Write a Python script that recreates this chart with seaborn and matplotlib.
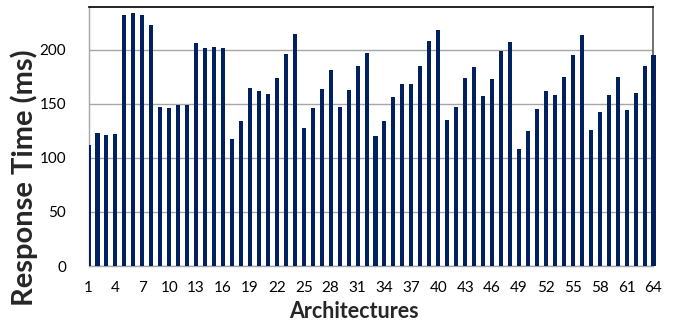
import matplotlib
matplotlib.use("Agg")
import matplotlib.pyplot as plt
import seaborn as sns
import pandas as pd

# Response time measured for each of the 64 architectures
architectures = list(range(1, 65))
response_ms = [
    112, 123, 121, 122, 232, 234, 232, 223,
    147, 146, 149, 149, 206, 202, 203, 202,
    118, 134, 165, 162, 159, 174, 196, 215,
    128, 146, 164, 181, 147, 163, 185, 197,
    120, 134, 156, 168, 168, 185, 208, 218,
    135, 147, 174, 184, 157, 173, 199, 207,
    108, 125, 145, 162, 158, 175, 195, 214,
    126, 143, 158, 175, 144, 160, 185, 195,
]
y_ticks = [0, 50, 100, 150, 200]

sns.set_theme(style="white")
plt.rcParams["font.family"] = ["Lato", "DejaVu Sans"]

df = pd.DataFrame({"arch": architectures, "ms": response_ms})

fig = plt.figure(figsize=(6.83, 3.22), dpi=100)
ax = fig.add_axes([0.1296, 0.1739, 0.8272, 0.8053])

sns.barplot(data=df, x="arch", y="ms", color="#002060", saturation=1,
            width=0.45, ax=ax, zorder=3)
for i, p in enumerate(ax.patches):
    p.set_edgecolor("none")
    if i > 0:
        p.set_clip_on(False)

ax.set_ylim(0, 240)
ax.set_xlim(0, 63)
ax.set_yticks(y_ticks)
ax.set_yticklabels([str(v) for v in y_ticks], fontsize=11)
tick_pos = list(range(0, 64, 3))
ax.set_xticks(tick_pos)
ax.set_xticklabels([str(architectures[i]) for i in tick_pos], fontsize=11)
ax.tick_params(axis="x", length=0, pad=11, colors="#000000")
ax.tick_params(axis="y", length=0, pad=16, colors="#000000")

ax.yaxis.grid(True, color="#a6a6a6", linewidth=1.0, zorder=0)
ax.set_axisbelow(True)

ax.spines["top"].set_color("#000000")
ax.spines["top"].set_linewidth(1.2)
ax.spines["right"].set_color("#595959")
ax.spines["right"].set_linewidth(1.2)
ax.spines["left"].set_color("#a6a6a6")
ax.spines["bottom"].set_color("#a6a6a6")
for s in ("left", "bottom"):
    ax.spines[s].set_linewidth(1.0)

ax.set_xlabel("Architectures", fontsize=15.5, fontweight="bold", va="center")
ax.xaxis.set_label_coords(0.469, -0.174)
ax.set_ylabel("Response Time (ms)", fontsize=21, fontweight="bold", va="center")
ax.yaxis.set_label_coords(-0.114, 0.34)

fig.savefig("out.png", dpi=100)
